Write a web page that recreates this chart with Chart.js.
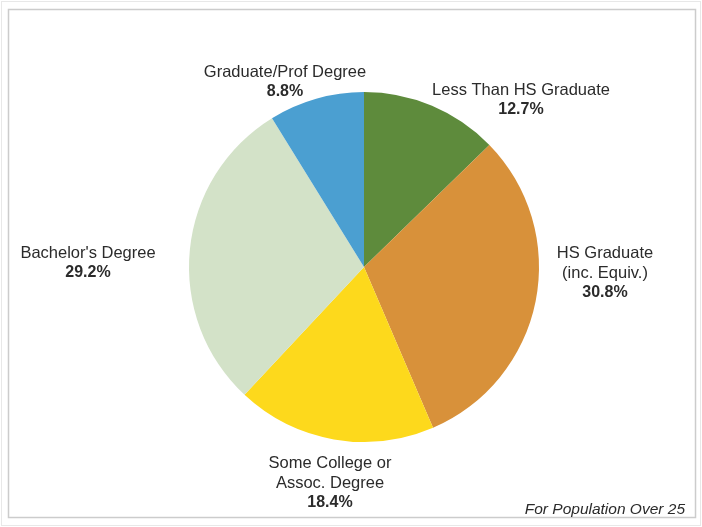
<!DOCTYPE html>
<html>
<head>
<meta charset="utf-8">
<script src="https://cdn.jsdelivr.net/npm/chart.js@4/dist/chart.umd.min.js"></script>
<style>
  html, body { margin: 0; padding: 0; background: #ffffff; }
  #wrap { width: 702px; height: 527px; position: relative; }
</style>
</head>
<body>
<div id="wrap"><canvas id="c" width="702" height="527"></canvas></div>
<script>
// Data
const categories = ["Less Than HS Graduate", "HS Graduate (inc. Equiv.)", "Some College or Assoc. Degree", "Bachelor's Degree", "Graduate/Prof Degree"];
const shares = [12.7, 30.8, 18.4, 29.2, 8.8];
const labelLines = [
  ["Less Than HS Graduate"],
  ["HS Graduate", "(inc. Equiv.)"],
  ["Some College or", "Assoc. Degree"],
  ["Bachelor's Degree"],
  ["Graduate/Prof Degree"]
];
const sliceColors = ["#5e8b3c", "#d8913a", "#fdd91c", "#d3e2c8", "#4b9fd1"];
const footnote = "For Population Over 25";

// label anchor offsets relative to pie centre (layout only)
const labelOffsets = [[157, -177], [241, -14], [-34, 196], [-276, -14], [-79, -195]];

const FONT = "'Liberation Sans', Arial, sans-serif";

const framePlugin = {
  id: 'frame',
  beforeDraw(chart) {
    const ctx = chart.ctx;
    ctx.save();
    ctx.fillStyle = '#ffffff';
    ctx.fillRect(0, 0, chart.width, chart.height);
    ctx.strokeStyle = '#e8e8e8';
    ctx.lineWidth = 1;
    ctx.strokeRect(1.5, 1.5, chart.width - 3, chart.height - 3);
    ctx.strokeStyle = '#cccccc';
    ctx.lineWidth = 1.5;
    ctx.strokeRect(8.5, 9.5, chart.width - 15, chart.height - 19);
    ctx.restore();
  }
};

const labelPlugin = {
  id: 'sliceLabels',
  afterDraw(chart) {
    const ctx = chart.ctx;
    const meta = chart.getDatasetMeta(0);
    ctx.save();
    ctx.textAlign = 'center';
    ctx.textBaseline = 'middle';
    ctx.fillStyle = '#2b2b2b';
    meta.data.forEach((arc, i) => {
      const cx = arc.x + labelOffsets[i][0];
      let cy = arc.y + labelOffsets[i][1];
      const lines = labelLines[i];
      ctx.font = "16.5px " + FONT;
      lines.forEach((ln, j) => {
        ctx.fillText(ln, cx, cy + j * 20);
      });
      ctx.font = "bold 16px " + FONT;
      ctx.fillText(shares[i].toFixed(1) + '%', cx, cy + lines.length * 20);
    });
    ctx.font = "italic 15.5px " + FONT;
    ctx.textAlign = 'right';
    ctx.fillText(footnote, chart.width - 17, chart.height - 17);
    ctx.restore();
  }
};

new Chart(document.getElementById('c'), {
  type: 'pie',
  data: {
    labels: categories,
    datasets: [{
      data: shares,
      backgroundColor: sliceColors,
      borderWidth: 0
    }]
  },
  options: {
    responsive: false,
    animation: false,
    rotation: 0,
    layout: { padding: { top: 92, bottom: 85, left: 189, right: 163 } },
    plugins: {
      legend: { display: false },
      tooltip: { enabled: false },
      title: { display: false }
    }
  },
  plugins: [framePlugin, labelPlugin]
});
</script>
</body>
</html>
